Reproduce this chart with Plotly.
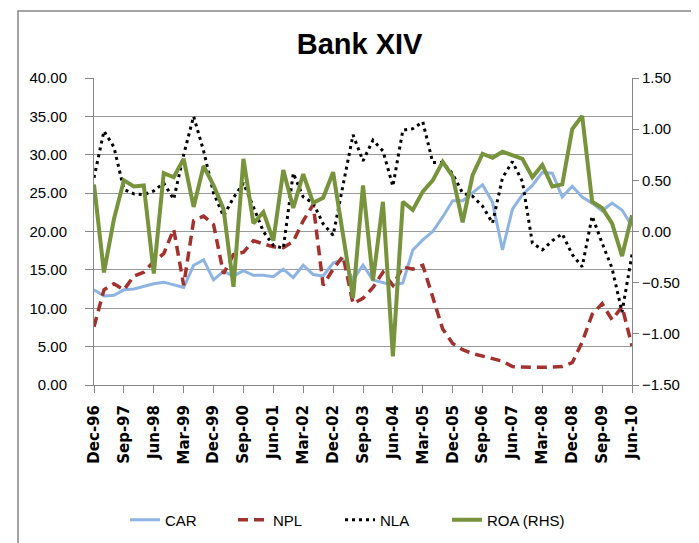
import plotly.graph_objects as go

# Quarterly categories Dec-96 .. Jun-10
months = ["Mar", "Jun", "Sep", "Dec"]
quarters = []
y, q = 1996, 3
while True:
    quarters.append(f"{months[q]}-{y % 100:02d}")
    if y == 2010 and q == 1:
        break
    q += 1
    if q == 4:
        q = 0
        y += 1

tick_labels = quarters[::3]

CAR = [12.4, 11.6, 11.7, 12.4, 12.5, 12.9, 13.2, 13.4, 13.0, 12.7,
       15.6, 16.3, 13.7, 14.8, 14.2, 14.9, 14.3, 14.3, 14.1, 15.1,
       14.0, 15.6, 14.4, 14.2, 15.9, 16.3, 13.7, 15.6, 13.7, 13.3,
       13.0, 13.3, 17.6, 18.9, 20.0, 21.9, 24.0, 24.0, 25.0, 26.1,
       23.8, 17.6, 22.9, 24.8, 26.0, 27.7, 27.6, 24.5, 25.9, 24.5,
       23.7, 22.7, 23.7, 22.8, 20.7]

NPL = [7.6, 12.4, 13.2, 12.4, 14.2, 14.7, 16.1, 17.1, 20.3, 13.0,
       21.4, 22.0, 20.9, 14.5, 17.0, 17.3, 18.8, 18.4, 18.0, 17.9,
       18.7, 21.4, 23.5, 13.0, 15.1, 16.8, 10.6, 11.3, 12.7, 14.7,
       13.0, 15.4, 15.1, 15.6, 11.3, 7.3, 5.4, 4.6, 4.1, 3.8,
       3.5, 3.1, 2.4, 2.3, 2.3, 2.3, 2.3, 2.4, 2.9, 5.6,
       9.2, 10.6, 8.5, 10.2, 5.1]

NLA = [27.0, 33.1, 31.0, 25.5, 24.9, 24.8, 25.3, 26.3, 24.2, 30.0,
       35.0, 30.5, 25.0, 22.0, 24.4, 26.3, 23.2, 20.0, 18.2, 17.8,
       27.6, 24.5, 23.7, 21.0, 19.5, 26.0, 32.6, 29.2, 31.9, 30.5,
       25.9, 33.2, 33.4, 34.3, 29.0, 29.0, 27.5, 25.0, 24.6, 23.3,
       21.1, 27.0, 29.1, 26.5, 18.5, 17.6, 18.8, 19.7, 17.0, 15.4,
       22.0, 18.5, 15.2, 9.5, 17.0]

ROA = [0.46, -0.40, 0.12, 0.50, 0.44, 0.45, -0.41, 0.57, 0.53, 0.71,
       0.24, 0.64, 0.45, 0.22, -0.54, 0.71, 0.08, 0.19, -0.09, 0.60,
       0.23, 0.56, 0.28, 0.33, 0.58, -0.04, -0.65, 0.45, -0.48, 0.29,
       -1.22, 0.29, 0.21, 0.39, 0.50, 0.68, 0.54, 0.09, 0.55, 0.76,
       0.72, 0.78, 0.75, 0.71, 0.53, 0.65, 0.44, 0.46, 1.00, 1.13,
       0.29, 0.23, 0.08, -0.24, 0.16]

FONT = "Liberation Sans, Arial, sans-serif"

fig = go.Figure()
fig.add_trace(go.Scatter(x=quarters, y=CAR, name="CAR", mode="lines",
                         line=dict(color="#8db4e2", width=3), legend="legend",
                         showlegend=True))
fig.add_trace(go.Scatter(x=quarters, y=NPL, name="NPL", mode="lines",
                         line=dict(color="#a3312e", width=3.5, dash="10px,6px"),
                         legend="legend2", showlegend=True))
fig.add_trace(go.Scatter(x=quarters, y=NLA, name="NLA", mode="lines",
                         line=dict(color="#000000", width=3, dash="3px,4px"),
                         legend="legend3", showlegend=True))
fig.add_trace(go.Scatter(x=quarters, y=ROA, name="ROA (RHS)", mode="lines",
                         line=dict(color="#77933c", width=4), yaxis="y2",
                         legend="legend4", showlegend=True))


def leg(sample_px):
    return dict(orientation="h", x=(sample_px - 13 - 86) / 538, xanchor="left",
                y=(377 - 512) / 307, yanchor="middle",
                font=dict(family=FONT, size=15, color="black"),
                bgcolor="rgba(0,0,0,0)", visible=True)


fig.update_layout(
    width=699, height=543,
    showlegend=True,
    margin=dict(l=86, r=75, t=70, b=166),
    paper_bgcolor="white", plot_bgcolor="white",
    title=dict(text="<b>Bank XIV</b>", x=0.503, xanchor="center",
               y=1 - 36 / 543, yanchor="middle",
               font=dict(family=FONT, size=29, color="black")),
    xaxis=dict(type="category", range=[0, len(quarters) - 1],
               tickmode="array", tickvals=tick_labels, ticktext=tick_labels,
               tickangle=-90, ticks="outside", ticklen=7, tickcolor="#868686",
               ticklabelstandoff=6,
               showline=True, linecolor="#868686", linewidth=1,
               showgrid=False, zeroline=False,
               tickfont=dict(family="DejaVu Sans", size=15, color="black",
                             weight="bold")),
    yaxis=dict(range=[0, 40], dtick=5, tickformat=".2f",
               ticks="outside", ticklen=8, tickcolor="#868686",
               ticklabelstandoff=15,
               showline=True, linecolor="#868686", linewidth=1,
               showgrid=True, gridcolor="#9a9a9a", gridwidth=1,
               zeroline=False,
               tickfont=dict(family=FONT, size=15, color="black")),
    yaxis2=dict(range=[-1.5, 1.5], dtick=0.5, tickformat=".2f",
                overlaying="y", side="right",
                ticks="outside", ticklen=6, tickcolor="#868686",
                ticklabelstandoff=0,
                showline=True, linecolor="#868686", linewidth=1,
                showgrid=False, zeroline=False,
                tickfont=dict(family=FONT, size=15, color="black")),
    legend=leg(130),
    legend2=leg(238),
    legend3=leg(345),
    legend4=leg(452),
    shapes=[dict(type="rect", xref="paper", yref="paper",
                 x0=(10 - 86) / 538, x1=(690 - 86) / 538,
                 y0=(377 - 560) / 307, y1=(377 - 3) / 307,
                 line=dict(color="#868686", width=1.5), layer="below")],
)

fig.write_html("out.html")
